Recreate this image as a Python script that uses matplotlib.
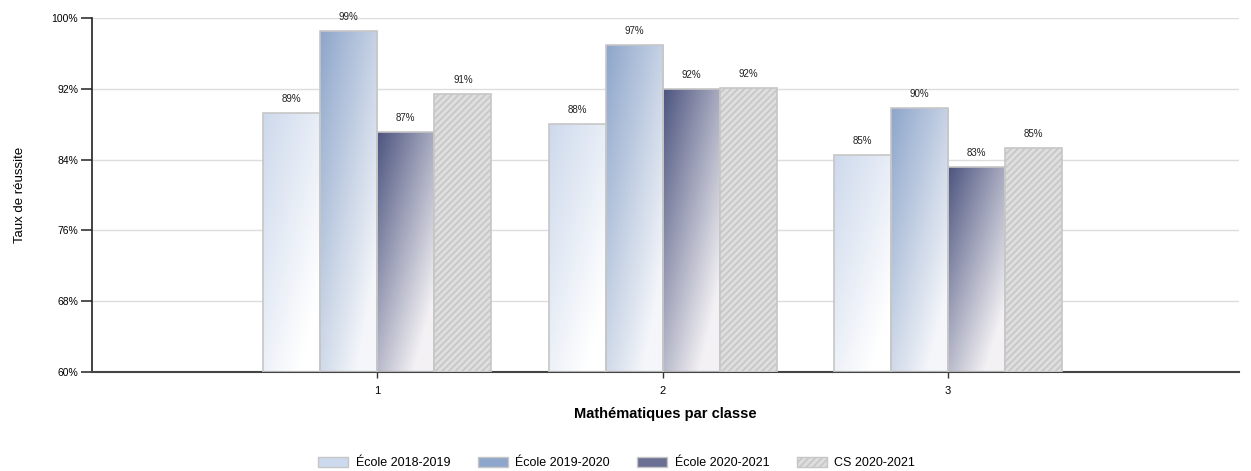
import numpy as np
import matplotlib.pyplot as plt
from matplotlib.colors import LinearSegmentedColormap
from matplotlib.patches import Patch

plt.rcParams['font.family'] = ['Liberation Sans', 'DejaVu Sans']

classes = [1, 2, 3]
series = ['École 2018-2019', 'École 2019-2020', 'École 2020-2021', 'CS 2020-2021']
ecole_2018 = [89.3, 88.0, 84.5]
ecole_2019 = [98.5, 96.9, 89.8]
ecole_2020 = [87.1, 92.0, 83.2]
cs_2020 = [91.4, 92.1, 85.3]
labels = [['89%', '88%', '85%'], ['99%', '97%', '90%'], ['87%', '92%', '83%'], ['91%', '92%', '85%']]
yticks = [60, 68, 76, 84, 92, 100]

# gradient start / end colours for the three school series
grads = [('#cdd9ec', '#ffffff'), ('#8ea6cb', '#f4f6fa'), ('#4d5580', '#f3f1f4')]

fig = plt.figure(figsize=(12.51, 4.71), dpi=100)
ax = fig.add_axes([0.0735, 0.21, 0.917, 0.752])

values = [ecole_2018, ecole_2019, ecole_2020, cs_2020]
w = 0.2
edge = '#c6c6c6'

# diagonal gradient image (top-left dark -> bottom-right light)
gx, gy = np.meshgrid(np.linspace(0, 1, 60), np.linspace(0, 1, 200))
gimg = np.clip(0.55 * gx + 0.65 * (1 - gy), 0, 1)

plt.rcParams['hatch.color'] = '#ffffff'
plt.rcParams['hatch.linewidth'] = 1.2

for i, vals in enumerate(values):
    xs = [c + (i - 1.5) * w for c in classes]
    if i < 3:
        cmap = LinearSegmentedColormap.from_list('g%d' % i, grads[i])
        bars = ax.bar(xs, [v - 60 for v in vals], w, bottom=60, color='none',
                      edgecolor=edge, linewidth=1.2, zorder=3)
        for b in bars:
            x0, y0 = b.get_x(), b.get_y()
            im = ax.imshow(gimg, cmap=cmap, aspect='auto', origin='lower',
                           extent=[x0, x0 + b.get_width(), y0, y0 + b.get_height()],
                           zorder=2.5, vmin=0, vmax=1)
            im.set_clip_path(b)
    else:
        ax.bar(xs, [v - 60 for v in vals], w, bottom=60, color='#dedede',
               edgecolor=edge, linewidth=0, hatch='/////', zorder=3)
        ax.bar(xs, [v - 60 for v in vals], w, bottom=60, color='none',
               edgecolor=edge, linewidth=1.2, zorder=3.1)
    for x, v, t in zip(xs, vals, labels[i]):
        ax.text(x, v + 1.0, t, ha='center', va='bottom', fontsize=7, color='#222222')

ax.set_xlim(0, 4.02)
ax.set_ylim(60, 100)
ax.set_yticks(yticks)
ax.set_yticklabels(['%d%%' % t for t in yticks], fontsize=7.5)
ax.set_xticks(classes)
ax.set_xticklabels([str(c) for c in classes], fontsize=8)
ax.tick_params(axis='y', length=8, width=1.2, color='#333333', pad=2)
ax.tick_params(axis='x', length=4, width=1, color='#333333', pad=6)
ax.grid(axis='y', color='#dddddd', linewidth=1)
ax.set_axisbelow(True)
ax.spines['top'].set_visible(False)
ax.spines['right'].set_visible(False)
ax.spines['left'].set_linewidth(1.2)
ax.spines['bottom'].set_linewidth(1.5)
ax.spines['left'].set_color('#222222')
ax.spines['bottom'].set_color('#444444')

ax.set_ylabel('Taux de réussite', fontsize=9.5, labelpad=18)
ax.set_xlabel('Mathématiques par classe', fontsize=10.5, fontweight='bold', labelpad=8)

handles = [Patch(facecolor=grads[0][0], edgecolor=edge),
           Patch(facecolor=grads[1][0], edgecolor=edge),
           Patch(facecolor='#6a6f93', edgecolor=edge),
           Patch(facecolor='#dedede', edgecolor=edge, hatch='/////')]
fig.legend(handles, series, loc='lower center', bbox_to_anchor=(0.493, -0.02), ncol=4,
           frameon=False, fontsize=9, handlelength=2.4, handleheight=0.9,
           columnspacing=2.2, handletextpad=0.6)

fig.savefig('out.png', dpi=100)
